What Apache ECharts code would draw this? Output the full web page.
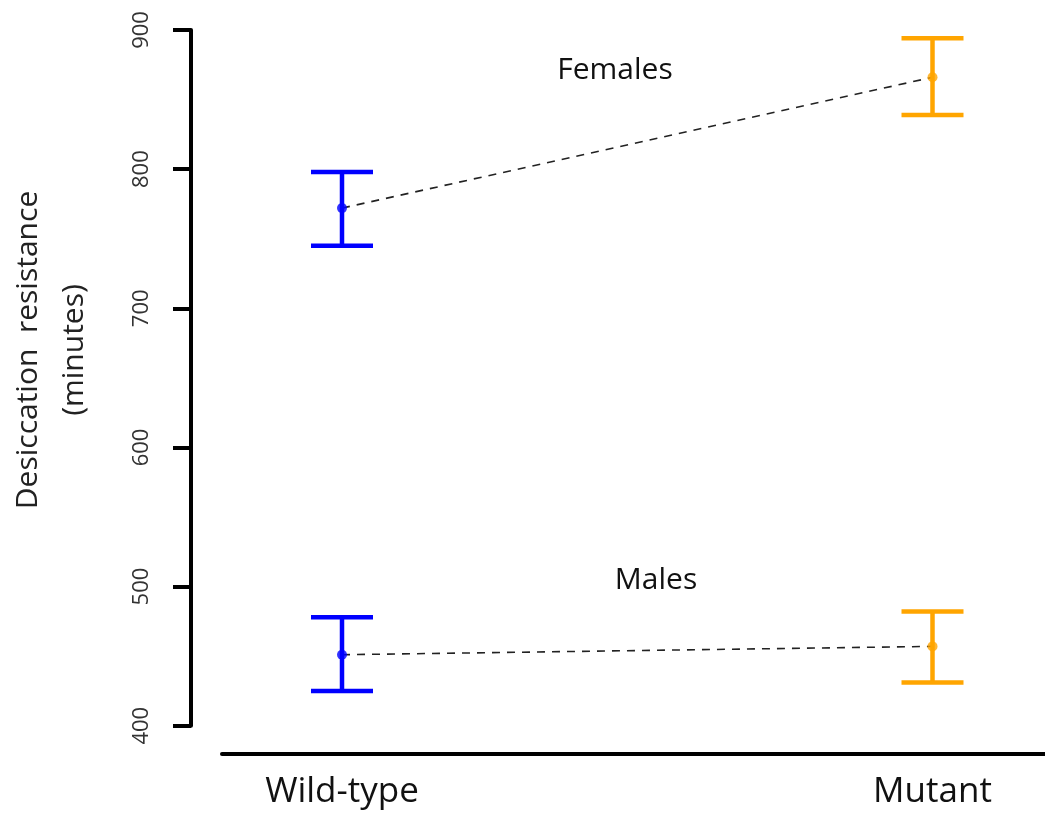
<!DOCTYPE html>
<html>
<head>
<meta charset="utf-8">
<script src="https://cdn.jsdelivr.net/npm/echarts@6/dist/echarts.min.js"></script>
<style>
  html, body { margin: 0; padding: 0; background: #fff; }
  #chart { width: 1045px; height: 814px; }
</style>
</head>
<body>
<div id="chart"></div>
<script>
// Desiccation resistance (minutes) by genotype, separate for females and males
const groups = ['Wild-type', 'Mutant'];
const groupX = [1, 2];

const femaleMean  = [772, 866];
const femaleUpper = [798, 894];
const femaleLower = [745, 839];

const maleMean  = [451, 457];
const maleUpper = [478, 482];
const maleLower = [425, 431];

const yTicks = [400, 500, 600, 700, 800, 900];
const yTitle = 'Desiccation  resistance\n(minutes)';
const groupColors = ['#0000ff', '#ffa500'];

// layout (pixels)
const W = 1045, H = 814;
const plotLeft = 191, plotTop = 30, plotBottom = 725.7;
const baseLeft = 222, baseY = 754;
const xAt1 = 342, xAt2 = 932.5;
const pxPerUnit = (xAt2 - xAt1);
const xMaxVal = 2 + (W - xAt2) / pxPerUnit;
const xMinMain = 1 - (xAt1 - plotLeft) / pxPerUnit;
const xMinBase = 1 - (xAt1 - baseLeft) / pxPerUnit;

const chart = echarts.init(document.getElementById('chart'), null, { renderer: 'canvas' });

function pairs(vals) { return vals.map((v, i) => [groupX[i], v]); }
function bars(lower, upper) {
  return lower.map((lo, i) => [groupX[i], lo, upper[i], i]);
}

function renderErrorBar(params, api) {
  const x = api.value(0);
  const lo = api.coord([x, api.value(1)]);
  const hi = api.coord([x, api.value(2)]);
  const color = groupColors[api.value(3)];
  const half = 31;
  const style = { stroke: color, lineWidth: 4.5, lineCap: 'butt' };
  return {
    type: 'group',
    children: [
      { type: 'line', shape: { x1: lo[0], y1: lo[1], x2: hi[0], y2: hi[1] }, style },
      { type: 'line', shape: { x1: hi[0] - half, y1: hi[1], x2: hi[0] + half, y2: hi[1] }, style },
      { type: 'line', shape: { x1: lo[0] - half, y1: lo[1], x2: lo[0] + half, y2: lo[1] }, style }
    ]
  };
}

const dashStyle = { color: '#222', width: 1.6, type: [8, 7] };
const labelFont = 'Open Sans';

const option = {
  backgroundColor: '#fff',
  animation: false,
  grid: [
    { left: plotLeft, top: plotTop, right: 0, bottom: H - plotBottom, outerBoundsMode: 'none', containLabel: false },
    { left: baseLeft, top: baseY - 2, right: 0, height: 2, outerBoundsMode: 'none', containLabel: false }
  ],
  xAxis: [
    {
      gridIndex: 0, type: 'value', min: xMinMain, max: xMaxVal,
      show: false
    },
    {
      gridIndex: 1, type: 'value', min: xMinBase, max: xMaxVal,
      axisLine: { show: true, lineStyle: { color: '#000', width: 4 } },
      axisTick: { show: false },
      splitLine: { show: false },
      axisLabel: {
        customValues: groupX,
        formatter: v => groups[groupX.indexOf(v)] || '',
        fontFamily: labelFont, fontSize: 35, color: '#111', margin: 21
      }
    }
  ],
  yAxis: [
    {
      gridIndex: 0, type: 'value', min: 400, max: 900, interval: 100,
      axisLine: { show: true, lineStyle: { color: '#000', width: 4 } },
      axisTick: { show: true, inside: false, length: 18, lineStyle: { color: '#000', width: 4 } },
      splitLine: { show: false },
      axisLabel: {
        rotate: 90, margin: 38, fontFamily: labelFont, fontSize: 22, color: '#333',
        formatter: v => (yTicks.indexOf(v) >= 0 ? String(v) : '')
      }
    },
    {
      gridIndex: 1, type: 'value', show: false
    }
  ],
  series: [
    {
      name: 'Females', type: 'line', data: pairs(femaleMean),
      symbol: 'none', lineStyle: dashStyle, z: 1, silent: true
    },
    {
      name: 'Males', type: 'line', data: pairs(maleMean),
      symbol: 'none', lineStyle: dashStyle, z: 1, silent: true
    },
    {
      name: 'Female range', type: 'custom', renderItem: renderErrorBar,
      data: bars(femaleLower, femaleUpper), z: 2, silent: true
    },
    {
      name: 'Male range', type: 'custom', renderItem: renderErrorBar,
      data: bars(maleLower, maleUpper), z: 2, silent: true
    },
    {
      name: 'Means', type: 'scatter', symbol: 'circle', symbolSize: 10, z: 3,
      data: pairs(femaleMean).concat(pairs(maleMean)).map((p, i) => ({
        value: p, itemStyle: { color: groupColors[i % 2] }
      }))
    }
  ],
  graphic: [
    {
      type: 'text', x: 51, y: 350, rotation: Math.PI / 2,
      style: {
        text: yTitle, font: '30px "Open Sans"', fill: '#222',
        align: 'center', verticalAlign: 'middle', lineHeight: 46
      }
    },
    {
      type: 'text', x: 615, y: 70,
      style: { text: 'Females', font: '30px "Open Sans"', fill: '#111', align: 'center', verticalAlign: 'middle' }
    },
    {
      type: 'text', x: 656, y: 580,
      style: { text: 'Males', font: '30px "Open Sans"', fill: '#111', align: 'center', verticalAlign: 'middle' }
    }
  ]
};

chart.setOption(option);
</script>
</body>
</html>
